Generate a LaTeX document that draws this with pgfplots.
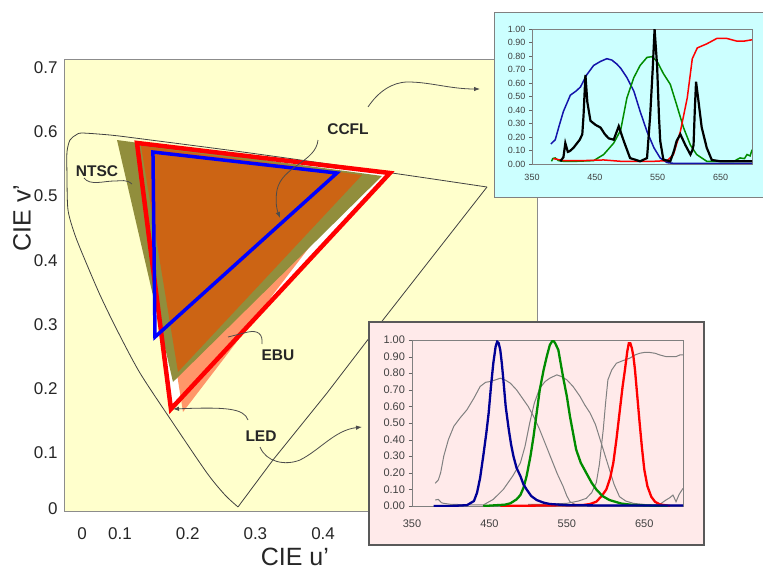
\documentclass[border=0pt]{standalone}
\usepackage{fontspec}
\setmainfont{Liberation Sans}
\usepackage{pgfplots}
\pgfplotsset{compat=1.18}
\usetikzlibrary{arrows.meta}
\definecolor{ybg}{RGB}{255,255,204}
\definecolor{olivef}{RGB}{145,142,60}
\definecolor{orangef}{RGB}{204,100,20}
\definecolor{salmonf}{RGB}{255,150,105}
\definecolor{cyanbg}{RGB}{204,255,255}
\definecolor{pinkbg}{RGB}{255,234,234}
\definecolor{fblue}{RGB}{20,20,170}
\definecolor{fgreen}{RGB}{0,140,0}
\definecolor{fred}{RGB}{255,0,0}
\definecolor{lblue}{RGB}{0,0,150}
\definecolor{fgray}{RGB}{128,128,128}
\pgfplotsset{/pgf/number format/assume math mode=true}
\begin{document}
\begin{tikzpicture}
\path[use as bounding box] (0pt,0pt) rectangle (763pt,-570pt);
% ---------------- main chromaticity diagram ----------------
\begin{axis}[
 at={(64pt,-511pt)}, anchor=south west, scale only axis,
 width=473pt, height=452pt,
 xmin=0.0173, xmax=0.716, ymin=0.0093, ymax=0.7134,
 axis background/.style={fill=ybg},
 axis line style={draw=black!45, line width=1pt},
 xtick={0.044,0.1,0.2,0.3,0.4}, xticklabels={0,0.1,0.2,0.3,0.4},
 ytick={0.0125,0.1,0.2,0.3,0.4,0.5,0.6,0.7},
 yticklabels={0,0.1,0.2,0.3,0.4,0.5,0.6,0.7},
 major tick length=0pt,
 tick label style={font=\fontsize{17}{17}\selectfont, text=black!85},
 xticklabel style={yshift=-13pt},
 yticklabel style={xshift=-3pt},
 xlabel={CIE u'}, ylabel={CIE v'},
 label style={font=\fontsize{25}{25}\selectfont, text=black!85},
 xlabel style={at={(rel axis cs:0.488,-0.1018)}, anchor=center},
 ylabel style={at={(rel axis cs:-0.0888,0.648)}, anchor=center},
]
% spectral locus
\addplot[black!75, line width=0.8pt, smooth, tension=0.45] coordinates {
 (0.2743,0.0156) (0.2551,0.0343) (0.2285,0.0685) (0.1783,0.1464) (0.1295,0.2243)
 (0.0956,0.2913) (0.0705,0.3458) (0.0483,0.4003) (0.0335,0.4393) (0.0232,0.4782)
 (0.0217,0.5327) (0.0217,0.5685) (0.0261,0.5872) (0.0350,0.5950) (0.0439,0.5981)
 (0.0852,0.5950) (0.1222,0.5903) (0.2920,0.5670) (0.5018,0.5358) (0.6421,0.5140)};
\addplot[black!75, line width=0.8pt] coordinates {
 (0.6421,0.5140) (0.4885,0.3069) (0.4058,0.1931) (0.3260,0.0888) (0.2743,0.0156)};
% LED triangle interior (white)
\addplot[fill=white, draw=none] coordinates {(0.1251,0.5826) (0.4988,0.5358) (0.1753,0.1682)} -- cycle;
% EBU (salmon)
\addplot[fill=salmonf, draw=none] coordinates {(0.1310,0.5748) (0.4604,0.5312) (0.1931,0.1636)} -- cycle;
% NTSC (olive)
\addplot[fill=olivef, draw=none] coordinates {(0.0956,0.5872) (0.4870,0.5312) (0.1783,0.2103)} -- cycle;
% orange gamut
\addplot[fill=orangef, draw=none] coordinates {(0.1310,0.5779) (0.4575,0.5327) (0.1857,0.2259)} -- cycle;
% LED outline
\addplot[draw=fred, line width=4.5pt, line join=miter] coordinates {(0.1251,0.5826) (0.4988,0.5358) (0.1753,0.1682)} -- cycle;
% CCFL outline
\addplot[draw=blue, line width=3.5pt, line join=miter] coordinates {(0.1487,0.5685) (0.4205,0.5358) (0.1517,0.2804)} -- cycle;
\end{axis}
% ---------------- annotations ----------------
\begin{scope}[x=1pt,y=1pt, line width=0.8pt, draw=black!70]
\tikzset{lab/.style={font=\bfseries\fontsize{15.5}{15.5}\selectfont, text=black!85}}
\node[lab] at (97,-171) {NTSC};
\node[lab] at (348,-129) {CCFL};
\node[lab] at (278,-355) {EBU};
\node[lab] at (261,-436) {LED};
\draw[black!70] (84,-178) .. controls (90,-186) and (104,-181) .. (114,-181) .. controls (122,-181) and (126,-179) .. (132,-184);
\draw[black!70, -{Latex[length=6pt,width=4.5pt]}] (318,-140) .. controls (316,-162) and (282,-166) .. (277,-190) .. controls (275,-202) and (277,-210) .. (280,-218);
\draw[black!70, -{Latex[length=6pt,width=4.5pt]}] (368,-107) .. controls (378,-92) and (392,-82) .. (408,-82) .. controls (430,-82) and (450,-89) .. (480,-89);
\draw[black!70] (228,-337) -- (248,-332) .. controls (258,-330) and (263,-334) .. (262,-344);
\draw[black!70, -{Latex[length=6pt,width=4.5pt]}] (248,-420) .. controls (244,-408) and (225,-407) .. (173,-409);
\draw[black!70, -{Latex[length=6pt,width=4.5pt]}] (260,-447) .. controls (266,-462) and (285,-466) .. (300,-460) .. controls (320,-450) and (335,-430) .. (362,-427);
% inset backgrounds
\fill[cyanbg] (494,-12) rectangle (770,-197);
\draw[black!50, line width=1pt] (494,-12) rectangle (770,-197);
\fill[pinkbg] (369,-322) rectangle (704,-545);
\draw[black!65, line width=1.2pt] (369,-322) rectangle (704,-545);
\end{scope}
% ---------------- CCFL spectrum inset ----------------
\begin{axis}[
 at={(532pt,-164pt)}, anchor=south west, scale only axis,
 width=220pt, height=135pt,
 xmin=350, xmax=700, ymin=0, ymax=1,
 xtick={350,450,550,650},
 ytick={0,0.1,0.2,0.3,0.4,0.5,0.6,0.7,0.8,0.9,1},
 yticklabels={0.00,0.10,0.20,0.30,0.40,0.50,0.60,0.70,0.80,0.90,1.00},
 xticklabels={350,450,550,650},
 axis line style={draw=black!50, line width=0.6pt},
 tick label style={font=\fontsize{9}{9}\selectfont, text=black!75},
 ytick pos=left, xtick pos=bottom, tick align=outside,
 major tick length=3pt, xtick style={draw=none}, ytick style={black!60},
 xticklabel style={yshift=-4pt},
]
\addplot[fblue, line width=1.5pt] coordinates {
 (380,0.148) (387,0.18) (393,0.28) (400,0.39) (411,0.51) (420,0.54) (427,0.57)
 (437,0.66) (448,0.73) (459,0.76) (469,0.78) (477,0.77) (485,0.74) (491,0.71)
 (501,0.64) (512,0.54) (522,0.39) (533,0.24) (544,0.12) (554,0.044) (565,0.01)
 (575,0.005) (600,0.005) (650,0.005) (700,0.005)};
\addplot[fgreen, line width=1.5pt] coordinates {
 (381,0.02) (383,0.04) (387,0.045) (392,0.025) (400,0.02) (420,0.02) (448,0.025)
 (464,0.07) (480,0.155) (491,0.25) (501,0.49) (512,0.64) (522,0.73) (533,0.79)
 (541,0.795) (549,0.76) (559,0.67) (570,0.59) (580,0.44) (591,0.27) (602,0.14)
 (612,0.07) (628,0.02) (650,0.02) (671,0.02) (681,0.045) (688,0.04) (692,0.07)
 (697,0.06) (700,0.105)};
\addplot[fred, line width=1.5pt] coordinates {
 (384,0.04) (400,0.025) (430,0.025) (464,0.03) (491,0.02) (520,0.02) (544,0.02)
 (565,0.025) (575,0.07) (586,0.24) (597,0.49) (605,0.78) (613,0.86) (628,0.89)
 (644,0.93) (660,0.93) (676,0.91) (687,0.91) (700,0.92)};
\addplot[black, line width=2.2pt] coordinates {
 (395,0.02) (400,0.05) (403,0.155) (407,0.09) (410,0.095) (416,0.12) (426,0.18)
 (430,0.22) (432,0.36) (435,0.66) (438,0.46) (443,0.32) (451,0.29) (459,0.27)
 (466,0.22) (472,0.19) (480,0.18) (488,0.28) (496,0.17) (506,0.044) (522,0.02)
 (533,0.044) (538,0.36) (542,0.7) (545,1.0) (549,0.73) (552,0.35) (554,0.17)
 (559,0.032) (570,0.02) (576,0.1) (580,0.17) (586,0.22) (594,0.14) (602,0.07)
 (605,0.1) (607,0.14) (609,0.4) (611,0.61) (615,0.46) (620,0.27) (628,0.12)
 (636,0.03) (650,0.02) (671,0.02) (700,0.02)};
\end{axis}
% ---------------- LED spectrum inset ----------------
\begin{axis}[
 at={(412pt,-506pt)}, anchor=south west, scale only axis,
 width=271pt, height=166pt,
 xmin=350, xmax=700, ymin=0, ymax=1,
 xtick={350,450,550,650},
 ytick={0,0.1,0.2,0.3,0.4,0.5,0.6,0.7,0.8,0.9,1},
 yticklabels={0.00,0.10,0.20,0.30,0.40,0.50,0.60,0.70,0.80,0.90,1.00},
 xticklabels={350,450,550,650},
 axis line style={draw=black!50, line width=0.6pt},
 tick label style={font=\fontsize{11}{11}\selectfont, text=black!75},
 ytick pos=left, xtick pos=bottom, tick align=outside,
 major tick length=3.5pt, xtick style={draw=none}, ytick style={black!60},
 xticklabel style={yshift=-7pt},
]
\addplot[fgray, line width=1pt] coordinates {
 (380,0.137) (384,0.157) (387,0.2) (391,0.3) (397,0.4) (404,0.48) (412,0.53)
 (421,0.58) (430,0.65) (438,0.72) (445,0.745) (451,0.75) (458,0.76) (464,0.77)
 (470,0.76) (477,0.74) (485,0.7) (494,0.64) (500,0.6) (507,0.54) (514,0.47)
 (520,0.4) (526,0.33) (532,0.26) (538,0.19) (545,0.12) (550,0.06) (554,0.026)
 (562,0.006) (600,0.005) (700,0.005)};
\addplot[fgray, line width=1pt] coordinates {
 (380,0.036) (384,0.04) (388,0.02) (391,0.016) (400,0.01) (420,0.008) (442,0.006)
 (455,0.04) (468,0.1) (480,0.18) (490,0.26) (496,0.36) (502,0.5) (508,0.62)
 (515,0.71) (522,0.75) (528,0.77) (537,0.79) (543,0.78) (550,0.76) (558,0.72)
 (567,0.66) (573,0.61) (580,0.56) (587,0.49) (593,0.4) (599,0.31) (605,0.22)
 (611,0.13) (618,0.056) (626,0.03) (636,0.016) (657,0.006) (670,0.01) (678,0.036)
 (683,0.05) (687,0.066) (691,0.026) (695,0.07) (700,0.106)};
\addplot[fgray, line width=1pt] coordinates {
 (500,0.01) (520,0.01) (550,0.016) (565,0.03) (575,0.046) (582,0.08) (588,0.14)
 (592,0.25) (597,0.46) (600,0.62) (603,0.76) (608,0.82) (614,0.86) (622,0.875)
 (631,0.89) (638,0.91) (644,0.92) (650,0.925) (657,0.925) (664,0.92) (670,0.91)
 (678,0.9) (685,0.9) (691,0.9) (696,0.91) (700,0.91)};
\addplot[fred, line width=2.3pt] coordinates {
 (464,0) (520,0.003) (571,0.006) (580,0.012) (588,0.026) (595,0.06) (601,0.1)
 (606,0.17) (610,0.26) (614,0.4) (618,0.56) (622,0.72) (625,0.82) (628,0.93)
 (630,0.98) (632,0.98) (634,0.95) (636,0.9) (638,0.82) (641,0.66) (644,0.5)
 (647,0.35) (650,0.22) (654,0.12) (659,0.056) (664,0.025) (670,0.01) (683,0)};
\addplot[fgreen, line width=2.3pt] coordinates {
 (442,0) (470,0.008) (477,0.016) (485,0.04) (490,0.066) (494,0.11) (498,0.18)
 (503,0.3) (507,0.42) (511,0.56) (515,0.7) (520,0.82) (524,0.9) (528,0.97)
 (532,1.0) (535,0.98) (539,0.94) (542,0.86) (545,0.78) (550,0.66) (554,0.54)
 (558,0.44) (562,0.34) (568,0.26) (575,0.2) (582,0.14) (588,0.1) (596,0.06)
 (605,0.036) (620,0.015) (636,0.006) (660,0.002) (680,0)};
\addplot[lblue, line width=2.3pt] coordinates {
 (378,0) (400,0) (421,0.005) (430,0.03) (434,0.08) (438,0.17) (442,0.3) (446,0.44)
 (449,0.56) (452,0.72) (455,0.86) (458,0.96) (460,0.99) (462,0.98) (464,0.94)
 (466,0.86) (468,0.76) (471,0.6) (475,0.46) (478,0.37) (481,0.3) (485,0.23)
 (490,0.18) (494,0.13) (498,0.1) (504,0.06) (511,0.036) (520,0.02) (528,0.012)
 (550,0.005) (600,0.003) (700,0.003)};
\end{axis}
\end{tikzpicture}
\end{document}
